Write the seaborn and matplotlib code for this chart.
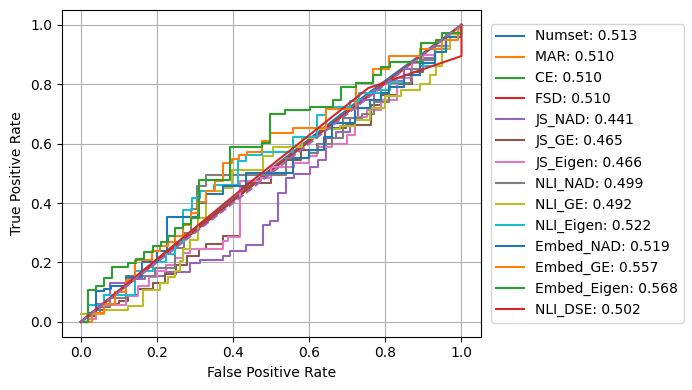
import matplotlib
matplotlib.use("Agg")
import matplotlib.pyplot as plt
import seaborn as sns
import numpy as np

# ---- data (ROC vertices; step curves use steps-post) ----
labels = ["Numset", "MAR", "CE", "FSD", "JS_NAD", "JS_GE", "JS_Eigen",
          "NLI_NAD", "NLI_GE", "NLI_Eigen", "Embed_NAD", "Embed_GE",
          "Embed_Eigen", "NLI_DSE"]
aucs = [0.513, 0.510, 0.510, 0.510, 0.441, 0.465, 0.466,
        0.499, 0.492, 0.522, 0.519, 0.557, 0.568, 0.502]

fpr_numset = [0, 0.25, 0.5, 0.75, 1]
tpr_numset = [0, 0.262, 0.515, 0.765, 1]
fpr_mar = [0, 0.5, 1]
tpr_mar = [0, 0.51, 1]
fpr_ce = [0, 0.5, 1]
tpr_ce = [0, 0.51, 1]
fpr_fsd = [0, 0.5, 1]
tpr_fsd = [0, 0.51, 1]

fpr_js_nad = [0, 0.02, 0.04, 0.06, 0.077, 0.125, 0.17, 0.22, 0.287, 0.313, 0.374, 0.391,
              0.434, 0.478, 0.498, 0.519, 0.539, 0.561, 0.601, 0.623, 0.645, 0.671, 0.707,
              0.728, 0.77, 0.81, 0.85, 0.89, 0.93, 0.96, 1]
tpr_js_nad = [0, 0.03, 0.06, 0.09, 0.131, 0.145, 0.155, 0.168, 0.198, 0.209, 0.221, 0.237,
              0.26, 0.327, 0.338, 0.434, 0.484, 0.498, 0.521, 0.546, 0.618, 0.64, 0.686,
              0.747, 0.78, 0.81, 0.85, 0.89, 0.93, 0.96, 1]

fpr_js_ge = [0, 0.02, 0.04, 0.06, 0.1, 0.125, 0.15, 0.19, 0.22, 0.25, 0.28, 0.31, 0.33,
             0.374, 0.417, 0.438, 0.5, 0.539, 0.579, 0.62, 0.641, 0.697, 0.763, 0.789,
             0.83, 0.87, 0.9, 0.93, 0.96, 1]
tpr_js_ge = [0, 0.02, 0.04, 0.06, 0.07, 0.09, 0.11, 0.13, 0.16, 0.19, 0.22, 0.245, 0.262,
             0.288, 0.45, 0.467, 0.498, 0.546, 0.58, 0.60, 0.652, 0.663, 0.73, 0.764,
             0.80, 0.84, 0.88, 0.92, 0.96, 1]

fpr_js_eigen = [0, 0.02, 0.04, 0.06, 0.12, 0.15, 0.18, 0.2, 0.225, 0.247, 0.269, 0.287,
                0.374, 0.387, 0.417, 0.473, 0.5, 0.561, 0.6, 0.62, 0.66, 0.7, 0.72,
                0.753, 0.789, 0.83, 0.87, 0.9, 0.93, 0.97, 0.99, 1]
tpr_js_eigen = [0, 0.01, 0.03, 0.056, 0.086, 0.12, 0.15, 0.17, 0.19, 0.215, 0.232, 0.245,
                0.271, 0.286, 0.473, 0.484, 0.52, 0.534, 0.56, 0.59, 0.60, 0.63, 0.69,
                0.713, 0.747, 0.82, 0.87, 0.9, 0.93, 0.97, 0.99, 1]

fpr_nli_nad = [0, 0.02, 0.05, 0.077, 0.12, 0.195, 0.247, 0.27, 0.29, 0.304, 0.33, 0.539,
               0.6, 0.623, 0.66, 0.688, 0.74, 0.77, 0.81, 0.868, 0.9, 0.93, 0.96, 1]
tpr_nli_nad = [0, 0.03, 0.05, 0.08, 0.153, 0.181, 0.25, 0.30, 0.38, 0.456, 0.495, 0.55,
               0.568, 0.60, 0.62, 0.686, 0.70, 0.74, 0.803, 0.85, 0.88, 0.93, 0.97, 1]

fpr_nli_ge = [0, 0.06, 0.125, 0.164, 0.208, 0.23, 0.247, 0.26, 0.269, 0.287, 0.308, 0.33,
              0.374, 0.396, 0.478, 0.504, 0.58, 0.62, 0.68, 0.72, 0.76, 0.8, 0.84,
              0.89, 0.916, 0.933, 0.95, 0.97, 1]
tpr_nli_ge = [0.028, 0.04, 0.055, 0.106, 0.131, 0.15, 0.17, 0.204, 0.245, 0.274, 0.35,
              0.439, 0.45, 0.51, 0.557, 0.59, 0.62, 0.65, 0.66, 0.68, 0.72, 0.76,
              0.78, 0.80, 0.83, 0.86, 0.92, 0.97, 1]

fpr_nli_eigen = [0, 0.02, 0.06, 0.142, 0.19, 0.225, 0.247, 0.269, 0.291, 0.313, 0.35,
                 0.413, 0.435, 0.477, 0.557, 0.62, 0.645, 0.706, 0.73, 0.789, 0.811, 0.85,
                 0.89, 0.93, 0.96, 1]
tpr_nli_eigen = [0, 0.056, 0.089, 0.17, 0.2, 0.23, 0.27, 0.377, 0.417, 0.44, 0.46, 0.54,
                 0.562, 0.573, 0.624, 0.697, 0.725, 0.742, 0.77, 0.78, 0.809, 0.83, 0.86,
                 0.92, 0.96, 1]

fpr_embed_nad = [0, 0.02, 0.039, 0.06, 0.08, 0.12, 0.16, 0.2, 0.227, 0.308, 0.33, 0.374,
                 0.434, 0.557, 0.6, 0.64, 0.66, 0.72, 0.76, 0.789, 0.81, 0.85, 0.89,
                 0.93, 0.96, 1]
tpr_embed_nad = [0, 0.03, 0.103, 0.11, 0.12, 0.15, 0.2, 0.24, 0.353, 0.40, 0.43, 0.456,
                 0.50, 0.55, 0.58, 0.624, 0.669, 0.72, 0.747, 0.77, 0.79, 0.83, 0.87,
                 0.91, 0.96, 1]

fpr_embed_ge = [0, 0.03, 0.06, 0.09, 0.12, 0.142, 0.186, 0.208, 0.23, 0.247, 0.269, 0.29,
                0.308, 0.33, 0.352, 0.374, 0.396, 0.415, 0.437, 0.477, 0.498, 0.557, 0.643,
                0.723, 0.767, 0.81, 0.89, 0.95, 0.99, 1]
tpr_embed_ge = [0, 0.03, 0.06, 0.10, 0.14, 0.209, 0.237, 0.257, 0.27, 0.288, 0.327, 0.366,
                0.405, 0.439, 0.473, 0.534, 0.548, 0.562, 0.573, 0.610, 0.637, 0.652, 0.716,
                0.805, 0.85, 0.895, 0.92, 0.95, 0.99, 1]

fpr_embed_eigen = [0, 0.02, 0.04, 0.061, 0.081, 0.125, 0.145, 0.166, 0.19, 0.21, 0.23,
                   0.247, 0.269, 0.29, 0.311, 0.393, 0.477, 0.498, 0.537, 0.601, 0.662,
                   0.684, 0.723, 0.767, 0.789, 0.811, 0.894, 0.933, 0.95, 1]
tpr_embed_eigen = [0, 0.106, 0.12, 0.148, 0.184, 0.198, 0.212, 0.235, 0.255, 0.27, 0.288,
                   0.316, 0.33, 0.35, 0.478, 0.587, 0.602, 0.70, 0.713, 0.725, 0.747,
                   0.792, 0.803, 0.831, 0.859, 0.876, 0.938, 0.949, 0.971, 1]

fpr_nli_dse = [0, 0.45, 0.755, 1, 1]
tpr_nli_dse = [0, 0.475, 0.787, 0.895, 1]

chance_x = [0, 1]
chance_y = [0, 1]

series = [
    (fpr_numset, tpr_numset, "linear"),
    (fpr_mar, tpr_mar, "linear"),
    (fpr_ce, tpr_ce, "linear"),
    (fpr_fsd, tpr_fsd, "linear"),
    (fpr_js_nad, tpr_js_nad, "step"),
    (fpr_js_ge, tpr_js_ge, "step"),
    (fpr_js_eigen, tpr_js_eigen, "step"),
    (fpr_nli_nad, tpr_nli_nad, "step"),
    (fpr_nli_ge, tpr_nli_ge, "step"),
    (fpr_nli_eigen, tpr_nli_eigen, "step"),
    (fpr_embed_nad, tpr_embed_nad, "step"),
    (fpr_embed_ge, tpr_embed_ge, "step"),
    (fpr_embed_eigen, tpr_embed_eigen, "step"),
    (fpr_nli_dse, tpr_nli_dse, "linear"),
]

palette = sns.color_palette("tab10")

fig, ax = plt.subplots(figsize=(6.92, 3.90), dpi=100)
fig.subplots_adjust(left=0.0892, right=0.6944, top=0.9744, bottom=0.1367)

for i, ((fx, ty, kind), name, auc) in enumerate(zip(series, labels, aucs)):
    kw = dict(drawstyle="steps-post") if kind == "step" else {}
    sns.lineplot(x=fx, y=ty, ax=ax, sort=False, estimator=None,
                 color=palette[i % 10], linewidth=1.5,
                 label=f"{name}: {auc:.3f}", **kw)

sns.lineplot(x=chance_x, y=chance_y, ax=ax, sort=False, estimator=None,
             color=palette[4], linestyle="--", linewidth=1.5)

ax.set_xlabel("False Positive Rate")
ax.set_ylabel("True Positive Rate")
ax.set_xlim(-0.05, 1.05)
ax.set_ylim(-0.05, 1.05)
ax.set_xticks([0, 0.2, 0.4, 0.6, 0.8, 1.0])
ax.set_yticks([0, 0.2, 0.4, 0.6, 0.8, 1.0])
ax.grid(True)
ax.legend(loc="center left", bbox_to_anchor=(1.008, 0.5), fontsize=10)

fig.savefig("out.png", dpi=100)
